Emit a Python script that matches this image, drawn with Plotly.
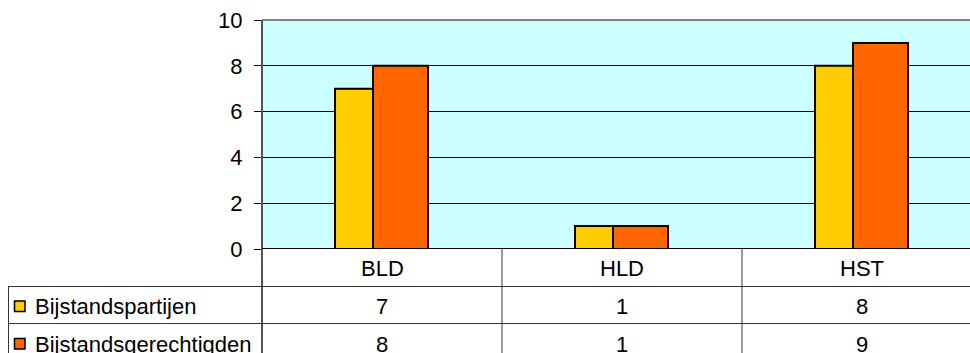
import plotly.graph_objects as go

categories = ["BLD", "HLD", "HST"]
series_names = ["Bijstandspartijen", "Bijstandsgerechtigden"]
partijen = [7, 1, 8]
gerechtigden = [8, 1, 9]
y_ticks = [0, 2, 4, 6, 8, 10]

colors = ["#FFCC00", "#FF6600"]
series_values = [partijen, gerechtigden]

W, H = 970, 353
L, T, B = 262, 20, 104
PW = W - L
PH = H - T - B
CAT_PX = 240.0

def py(p):  # pixel y -> paper y
    return (H - B - p) / PH

def px(p):  # pixel x -> paper x
    return (p - L) / PW

FONT = "Arial, 'Liberation Sans', sans-serif"
FS = 22

fig = go.Figure()
offsets = [-47 / CAT_PX, -9 / CAT_PX]
widths = [38 / CAT_PX, 55 / CAT_PX]
for name, vals, col, off, wd in zip(series_names, series_values, colors, offsets, widths):
    fig.add_trace(go.Bar(
        x=categories, y=vals, name=name,
        marker=dict(color=col, line=dict(color="black", width=2)),
        offset=off, width=wd, hoverinfo="x+y+name",
    ))

shapes = []
# top border
shapes.append(dict(type="line", xref="paper", yref="paper", x0=0, x1=1, y0=1, y1=1,
                   line=dict(color="#808080", width=2)))
# left axis extended through table
shapes.append(dict(type="line", xref="paper", yref="paper", x0=0, x1=0, y0=1, y1=py(H + 5),
                   line=dict(color="#555555", width=2)))
# zero line
shapes.append(dict(type="line", xref="paper", yref="y", x0=0, x1=1, y0=0, y1=0,
                   line=dict(color="black", width=2)))
# table horizontal lines
for yy in [286.5, 323.5]:
    shapes.append(dict(type="line", xref="paper", yref="paper", x0=px(8), x1=1,
                       y0=py(yy), y1=py(yy), line=dict(color="#333333", width=1)))
# table left line
shapes.append(dict(type="line", xref="paper", yref="paper", x0=px(8.5), x1=px(8.5),
                   y0=py(286.5), y1=py(H + 5), line=dict(color="#333333", width=1)))
# column dividers
for i in range(1, len(categories)):
    shapes.append(dict(type="line", xref="x", yref="paper", x0=i - 0.5, x1=i - 0.5,
                       y0=py(249), y1=py(H + 5), line=dict(color="#333333", width=1)))
# legend keys
key_y = [306.5, 344]
for col, ky in zip(colors, key_y):
    shapes.append(dict(type="rect", xref="paper", yref="paper",
                       x0=px(14.5), x1=px(25), y0=py(ky - 5.5), y1=py(ky + 5),
                       fillcolor=col, line=dict(color="black", width=1.5)))

annotations = []
for i, c in enumerate(categories):
    annotations.append(dict(x=i, y=py(268), xref="x", yref="paper", text=c,
                            showarrow=False, xanchor="center", yanchor="middle",
                            font=dict(size=FS, color="black", family=FONT)))
for name, vals, ky in zip(series_names, series_values, key_y):
    annotations.append(dict(x=px(33), y=py(ky), xref="paper", yref="paper", text=name,
                            showarrow=False, xanchor="left", yanchor="middle",
                            font=dict(size=FS, color="black", family=FONT)))
    for i, v in enumerate(vals):
        annotations.append(dict(x=i, y=py(ky), xref="x", yref="paper", text=str(v),
                                showarrow=False, xanchor="center", yanchor="middle",
                                font=dict(size=FS, color="black", family=FONT)))

fig.update_layout(
    width=W, height=H,
    margin=dict(l=L, r=0, t=T, b=B, pad=0),
    paper_bgcolor="white", plot_bgcolor="#CCFFFF",
    showlegend=False, barmode="overlay",
    shapes=shapes, annotations=annotations,
    font=dict(family=FONT, size=FS, color="black"),
    xaxis=dict(type="category", categoryarray=categories, range=[-0.5, -0.5 + PW / CAT_PX],
               showticklabels=False, showline=False, showgrid=False, zeroline=False, ticks=""),
    yaxis=dict(range=[0, 10], tickvals=y_ticks, ticktext=[str(t) for t in y_ticks],
               showgrid=True, gridcolor="black", gridwidth=1, zeroline=False,
               showline=False, ticks="outside", ticklen=7, tickcolor="black", tickwidth=1,
               ticklabelstandoff=7,
               tickfont=dict(size=FS, color="black", family=FONT)),
)

fig.write_html("out.html")
